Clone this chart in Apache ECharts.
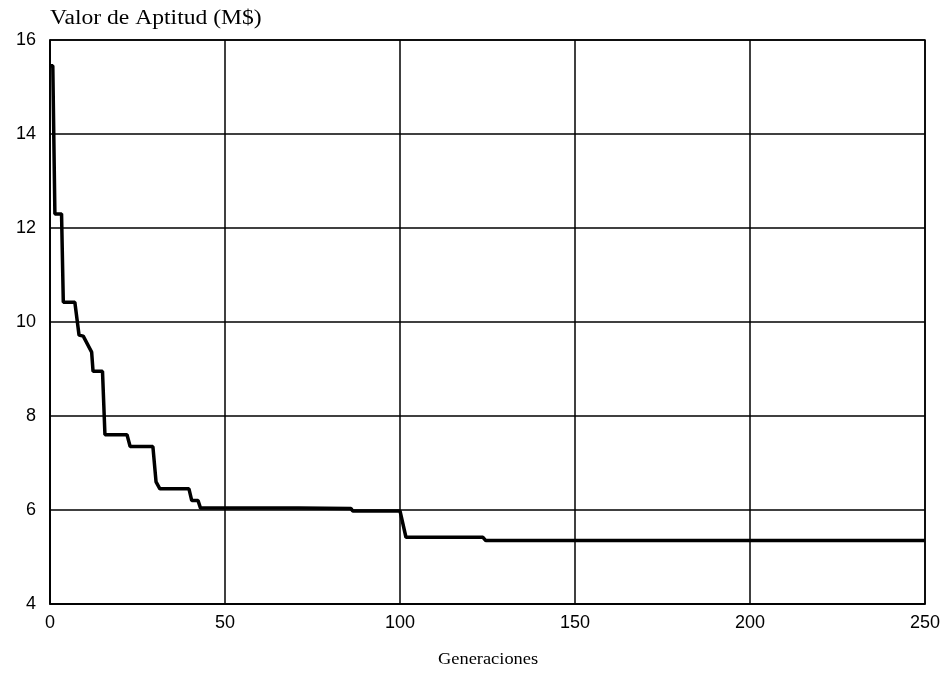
<!DOCTYPE html>
<html><head><meta charset="utf-8">
<script src="https://cdn.jsdelivr.net/npm/echarts@6/dist/echarts.min.js"></script>
<style>html,body{margin:0;padding:0;background:#fff}#c{width:949px;height:673px}</style>
</head><body><div id="c"></div>
<script>
const generations = [0,0.8,1.4,3.3,3.8,7.1,8.3,9.5,11.9,12.3,15,15.7,22,22.9,29.4,30.3,31.4,39.7,40.5,42.3,43,71,86,86.5,100,101.7,123.7,124.5,250];
const fitness = [15.45,15.45,12.3,12.3,10.42,10.42,9.72,9.7,9.36,8.95,8.95,7.6,7.6,7.35,7.35,6.6,6.45,6.45,6.2,6.2,6.04,6.04,6.03,5.98,5.98,5.42,5.42,5.35,5.35];
const xTicks = [0,50,100,150,200,250];
const yTicks = [4,6,8,10,12,14,16];
const yTitle = 'Valor de Aptitud (M$)';
const xTitle = 'Generaciones';

const chart = echarts.init(document.getElementById('c'));
chart.setOption({
  animation:false,
  backgroundColor:'#fff',
  grid:{left:50,right:24,top:40,bottom:69,show:true,borderColor:'#000',borderWidth:1.5},
  graphic:[
    {type:'text',x:50,y:9,scaleX:1.18,style:{text:yTitle,font:'20px "Liberation Serif"',fill:'#000'}},
    {type:'text',x:438,y:652,scaleX:1.15,style:{text:xTitle,font:'16px "Liberation Serif"',fill:'#000'}}
  ],
  xAxis:{type:'value',min:xTicks[0],max:xTicks[xTicks.length-1],interval:50,
    axisLine:{lineStyle:{color:'#000',width:1.5}},axisTick:{show:false},
    axisLabel:{margin:10,fontFamily:'Liberation Sans',fontSize:18,color:'#000'},
    splitLine:{lineStyle:{color:'#000',width:1.5}}},
  yAxis:{type:'value',min:yTicks[0],max:yTicks[yTicks.length-1],interval:2,
    axisLine:{show:true,lineStyle:{color:'#000',width:1.5}},axisTick:{show:false},
    axisLabel:{margin:14,fontFamily:'Liberation Sans',fontSize:18,color:'#000'},
    splitLine:{lineStyle:{color:'#000',width:1.5}}},
  series:[{type:'line',data:generations.map((g,i)=>[g,fitness[i]]),symbol:'none',
    lineStyle:{color:'#000',width:3.5},z:5}]
});
</script></body></html>
